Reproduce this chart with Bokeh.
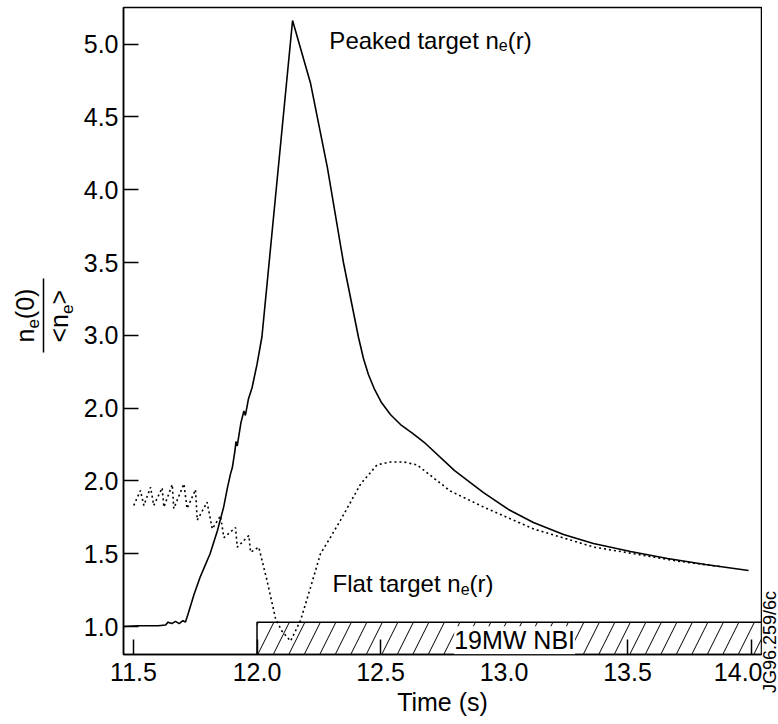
import math
from bokeh.plotting import figure
from bokeh.models import Range1d, Label, FixedTicker, PrintfTickFormatter, Div
from bokeh.layouts import row
from bokeh.embed import file_html
from bokeh.resources import INLINE

# ---------------- data ----------------
peaked_t = [11.46, 11.52, 11.60, 11.63, 11.64, 11.655, 11.67, 11.685, 11.70, 11.71,
            11.72, 11.745, 11.77, 11.79, 11.81, 11.84, 11.865, 11.88, 11.893, 11.90,
            11.91, 11.915, 11.92, 11.935, 11.947, 11.953, 11.965, 11.98, 12.00, 12.02,
            12.144, 12.217, 12.285, 12.35, 12.411, 12.431, 12.451, 12.476, 12.504, 12.54,
            12.581, 12.63, 12.682, 12.80, 12.917, 13.018, 13.119, 13.241, 13.362, 13.512,
            13.662, 13.816, 13.99]
peaked_v = [1.00, 1.005, 1.005, 1.01, 1.03, 1.02, 1.035, 1.02, 1.04, 1.03,
            1.08, 1.22, 1.34, 1.42, 1.50, 1.66, 1.82, 1.95, 2.05, 2.09,
            2.20, 2.27, 2.24, 2.40, 2.48, 2.45, 2.56, 2.64, 2.80, 2.99,
            5.162, 4.729, 4.152, 3.50, 2.985, 2.841, 2.731, 2.628, 2.538, 2.456,
            2.387, 2.326, 2.257, 2.071, 1.920, 1.804, 1.714, 1.632, 1.570, 1.515,
            1.467, 1.426, 1.385]

flat_t = [11.501, 11.528, 11.542, 11.569, 11.582, 11.616, 11.623, 11.657, 11.663, 11.704,
          11.717, 11.751, 11.758, 11.798, 11.819, 11.852, 11.866, 11.913, 11.92, 11.967,
          11.974, 12.007, 12.04, 12.075, 12.10, 12.136, 12.176, 12.217, 12.257, 12.30,
          12.338, 12.42, 12.486, 12.54, 12.594, 12.648, 12.783, 12.918, 13.12, 13.364,
          13.525, 13.70, 13.88]
flat_v = [1.831, 1.934, 1.831, 1.957, 1.831, 1.952, 1.82, 1.975, 1.81, 1.98,
          1.81, 1.94, 1.73, 1.854, 1.67, 1.76, 1.61, 1.68, 1.545, 1.625,
          1.51, 1.545, 1.32, 1.055, 0.97, 0.90, 1.04, 1.27, 1.50, 1.62,
          1.73, 1.98, 2.11, 2.13, 2.13, 2.11, 1.93, 1.82, 1.67, 1.545,
          1.50, 1.45, 1.41]

x_ticks = [11.5, 12.0, 12.5, 13.0, 13.5, 14.0]
y_ticks = [1.0, 1.5, 2.0, 2.5, 3.0, 3.5, 4.0, 4.5, 5.0]
y_tick_labels = ["1.0", "1.5", "2.0", "2.0", "3.0", "3.5", "4.0", "4.5", "5.0"]

x_lo, x_hi = 11.4595, 14.0425
y_lo, y_hi = 0.8077, 5.2514

nbi_start, nbi_end, nbi_top = 12.0, x_hi, 1.03
nbi_label = "19MW NBI"
x_title = "Time (s)"
code_text = "JG96.259/6c"

FONT = "Liberation Sans"
H = 724
TOP, BOTTOM = 7, 70   # plot-frame borders (px)

# ---------------- main plot ----------------
p = figure(width=682, height=H, output_backend="svg", toolbar_location=None,
           x_range=Range1d(x_lo, x_hi), y_range=Range1d(y_lo, y_hi),
           min_border_left=43, min_border_right=1, min_border_top=TOP, min_border_bottom=BOTTOM)
p.grid.visible = False
p.outline_line_color = "black"
p.outline_line_width = 1.5
p.background_fill_color = "white"
p.border_fill_color = "white"

for ax in (p.xaxis[0], p.yaxis[0]):
    ax.axis_line_color = "black"
    ax.axis_line_width = 1.5
    ax.major_tick_in = 15
    ax.major_tick_out = 0
    ax.major_tick_line_width = 1.5
    ax.minor_tick_in = 0
    ax.minor_tick_out = 0
    ax.major_label_text_font = FONT
    ax.major_label_text_font_size = "25px"
    ax.major_label_text_color = "black"

p.xaxis[0].ticker = FixedTicker(ticks=x_ticks)
p.xaxis[0].formatter = PrintfTickFormatter(format="%.1f")
p.xaxis[0].major_label_standoff = 8
p.xaxis[0].axis_label = x_title
p.xaxis[0].axis_label_text_font = FONT
p.xaxis[0].axis_label_text_font_size = "25px"
p.xaxis[0].axis_label_text_font_style = "normal"
p.xaxis[0].axis_label_text_color = "black"
p.xaxis[0].axis_label_standoff = 4
p.yaxis[0].ticker = FixedTicker(ticks=y_ticks)
p.yaxis[0].major_label_standoff = 5
p.yaxis[0].major_label_overrides = {t: s for t, s in zip(y_ticks, y_tick_labels)}

# NBI hatched box
p.quad(left=[nbi_start], right=[nbi_end], bottom=[y_lo], top=[nbi_top],
       fill_color="white", line_color="black", line_width=1.5,
       hatch_pattern="/", hatch_scale=31, hatch_color="black", hatch_weight=1)

# curves
p.line(flat_t, flat_v, line_color="black", line_width=1.6, line_dash="2 3")
p.line(peaked_t, peaked_v, line_color="black", line_width=1.6)

# ---------- text helpers ----------
W = {"P": .667, "e": .556, "a": .556, "k": .5, "d": .556, "t": .278, "r": .333, "g": .556,
     "n": .556, "(": .333, ")": .333, "0": .556, "F": .611, "l": .222, " ": .278,
     "<": .584, ">": .584}


def twidth(s, size):
    return sum(W.get(c, .556) for c in s) * size


def rich(fig, x, y, pieces):
    off = 0.0
    for text, size, shift in pieces:
        lab = Label(x=x, y=y, x_offset=off, y_offset=-shift, text=text,
                    text_font=FONT, text_font_size=f"{size}px", text_color="black",
                    text_baseline="alphabetic", text_align="left", level="overlay")
        fig.add_layout(lab)
        off += twidth(text, size)


def vlabel(fig, x_base, y_start, text, size):
    """Text rotated 90 deg (reading upwards), centred on its own body (pixel coords)."""
    L = twidth(text, size)
    cx = x_base - 0.3465 * size
    cy = y_start - L / 2
    fig.add_layout(Label(x=cx, y=H - cy, text=text, angle=math.pi / 2,
                         text_font=FONT, text_font_size=f"{size}px", text_color="black",
                         text_baseline="middle", text_align="center", level="overlay"))
    return L


def rich_vertical(fig, x_base, y_start, pieces):
    y = y_start
    for text, size, shift in pieces:
        y -= vlabel(fig, x_base + shift, y, text, size)


DY = 7 / 145.6  # label baseline correction
rich(p, 12.293, 4.979 + DY, [("Peaked target n", 24, 0), ("e", 16, 5), ("(r)", 24, 0)])
rich(p, 12.306, 1.247 + DY, [("Flat target n", 24, 0), ("e", 16, 5), ("(r)", 24, 0)])

nbi = Label(x=13.043, y=0.858 + DY, text=nbi_label, text_font=FONT, text_font_size="25px",
            text_align="center", text_baseline="alphabetic", text_color="black",
            background_fill_color="white", level="overlay")
p.add_layout(nbi)

# ---------------- left panel: y-axis title as a fraction ----------------
# its frame is aligned with the main frame (page y 7..654), so map data y = H - page y
yfig = figure(width=80, height=H, output_backend="svg", toolbar_location=None,
              x_range=Range1d(0, 80), y_range=Range1d(BOTTOM, H - TOP),
              x_axis_type=None, y_axis_type=None,
              min_border_left=0, min_border_right=0, min_border_top=TOP, min_border_bottom=BOTTOM)
yfig.grid.visible = False
yfig.outline_line_color = None
rich_vertical(yfig, 33, 342, [("n", 25, 0), ("e", 17, 5), ("(0)", 25, 0)])
rich_vertical(yfig, 67, 342, [("<n", 25, 0), ("e", 17, 5), (">", 25, 0)])
yfig.segment(x0=[43], y0=[H - 352], x1=[43], y1=[H - 278], line_color="black", line_width=1.5)

# ---------------- right strip: figure code, reading upwards ----------------
code_div = Div(
    text=('<div style="margin-top:573px; height:120px; width:16px; '
          'writing-mode:vertical-rl; transform:rotate(180deg); '
          "font-family:'Liberation Sans', Arial, sans-serif; font-size:18px; "
          'line-height:16px; color:black; white-space:nowrap;">' + code_text + '</div>'),
    width=16, height=H, styles={"margin": "0", "padding": "0", "overflow": "visible"})

layout = row(yfig, p, code_div)
open("out.html", "w").write(file_html(layout, INLINE))
